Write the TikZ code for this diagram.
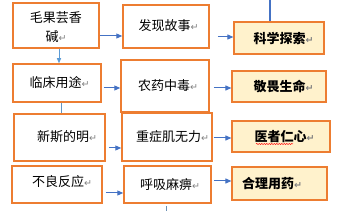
\documentclass[tikz,border=0pt]{standalone}
\usepackage{fontspec}
\newfontfamily\cjk{Noto Sans CJK SC}
\newfontfamily\symf{DejaVu Sans}
\usetikzlibrary{arrows.meta,decorations.pathmorphing}
\definecolor{orng}{HTML}{ED7D31}
\definecolor{blu}{HTML}{4472C4}
\definecolor{lblu}{HTML}{5B9BD5}
\definecolor{yel}{HTML}{FFF2CC}
\newcommand{\ret}{{\symf\fontsize{9.5}{9.5}\selectfont\color{gray}↵}}
\tikzset{
  box/.style={draw=orng,line width=1.5pt,fill=white,inner sep=0pt},
  ybox/.style={box,fill=yel,line width=1.2pt},
  txt/.style={inner sep=0pt,font=\cjk\fontsize{13}{19}\selectfont,align=center},
  btxt/.style={txt,font=\cjk\bfseries\fontsize{13}{19}\selectfont},
  arr/.style={draw=blu,line width=1pt,-{Triangle[length=6pt,width=5pt]}},
  larr/.style={draw=lblu,line width=0.8pt,-{Triangle[length=5pt,width=4pt]}},
  lline/.style={draw=lblu!80!gray,line width=0.8pt}
}
\begin{document}
\begin{tikzpicture}[x=1pt,y=-1pt]
\useasboundingbox[fill=white] (0,0) rectangle (341,211);
% left column
\node[box,minimum width=86pt,minimum height=45pt] (a1) at (56,25.5) {};
\node[box,minimum width=88pt,minimum height=38pt] (a2) at (57,83) {};
\node[box,minimum width=91pt,minimum height=47pt] (a3) at (59.5,137.5) {};
\node[box,minimum width=90pt,minimum height=37pt] (a4) at (57,184.5) {};
% middle column
\node[box,minimum width=86pt,minimum height=43pt] (m1) at (166,26.5) {};
\node[box,minimum width=88pt,minimum height=52pt] (m2) at (165,86) {};
\node[box,minimum width=90pt,minimum height=48pt] (m3) at (167,137) {};
\node[box,minimum width=87pt,minimum height=37pt] (m4) at (167.5,184.5) {};
% right column
\node[ybox,minimum width=90pt,minimum height=32pt] (r1) at (279,38) {};
\node[ybox,minimum width=94pt,minimum height=31pt] (r2) at (279,86.5) {};
\node[ybox,minimum width=98pt,minimum height=31pt] (r3) at (281,136.5) {};
\node[ybox,minimum width=95pt,minimum height=33pt] (r4) at (279.5,183.5) {};
% texts
\node[txt] (ta1) at (56,27.5) {毛果芸香\\碱\ret};
\node[txt] (ta2) at (59.5,83) {临床用途\ret};
\node[txt] (ta3) at (67,137) {新斯的明\ret};
\node[txt] (ta4) at (62,182) {不良反应\ret};
\node[txt] (tm1) at (168.5,26) {发现故事\ret};
\node[txt] (tm2) at (168,86) {农药中毒\ret};
\node[txt] (tm3) at (172.5,137) {重症肌无力\ret};
\node[txt] (tm4) at (170,185) {呼吸麻痹\ret};
\node[btxt] (tr1) at (283.5,38) {科学探索\ret};
\node[btxt] (tr2) at (283.5,86) {敬畏生命\ret};
\node[btxt] (tr3) at (284.5,136.5) {医者仁心\ret};
\node[btxt] (tr4) at (272,184) {合理用药\ret};
% red spell squiggle
\coordinate (sq1) at (256,144);
\coordinate (sq2) at (293,144);
\draw[red,line width=0.5pt,decorate,decoration={snake,amplitude=0.6pt,segment length=2.5pt}] (sq1) -- (sq2);
% connectors
\draw[arr] (a1.east |- 0,36) -- (m1.west |- 0,36);
\draw[arr] ([xshift=8pt]m1.east |- 0,37) -- (r1.west |- 0,37);
\draw[larr] (a1.south -| 59,0) -- (a2.north -| 59,0);
\draw[arr] ([xshift=2pt]a2.east |- 0,88) -- (m2.west |- 0,88);
\draw[arr] ([xshift=4pt]m2.east |- 0,88) -- (r2.west |- 0,88);
\draw[lline] (a2.south -| 61,0) -- (a3.north -| 61,0);
\draw[arr] ([xshift=3pt]a3.east |- 0,148) -- (m3.west |- 0,148);
\draw[arr] ([xshift=1pt]m3.east |- 0,138) -- (r3.west |- 0,138);
\draw[arr] ([xshift=3pt]a4.east |- 0,193) -- (m4.west |- 0,193);
\draw[arr] ([xshift=2pt]m4.east |- 0,181) -- (r4.west |- 0,181);
% top thick line
\coordinate (top) at (270,0);
\draw[draw=blu,line width=2.5pt] (top) -- (r1.north -| 270,0);
% bottom stub
\coordinate (b1) at (166,206);
\coordinate (b2) at (166,211);
\draw[draw=lblu!60!gray,line width=0.8pt] (b1) -- (b2);
\end{tikzpicture}
\end{document}
